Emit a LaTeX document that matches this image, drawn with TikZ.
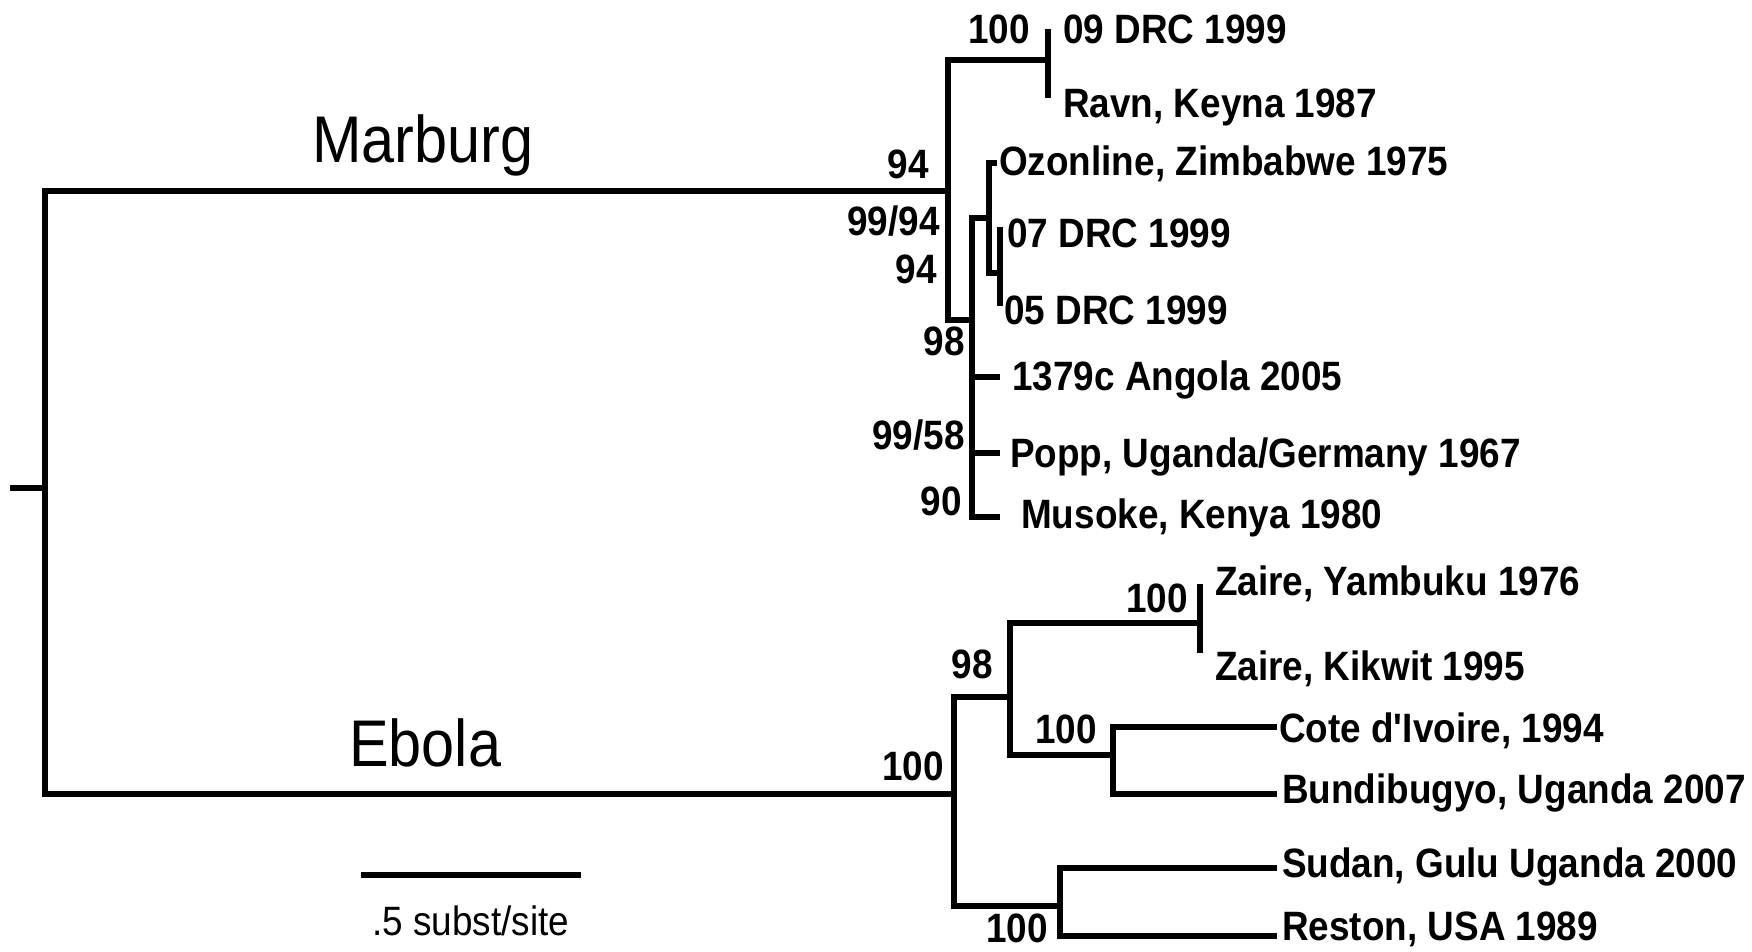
\documentclass[tikz,border=0pt]{standalone}
\usepackage{fontspec}
\setmainfont{Liberation Sans}
\newfontfamily\lblfont[FakeStretch=0.9]{Liberation Sans}
\newfontfamily\ttlfont[FakeStretch=0.9]{Liberation Sans}
\begin{document}
\begin{tikzpicture}[x=1pt,y=-1pt,
  branch/.style={line width=5.5pt,line join=miter},
  leaf/.style={anchor=base west,inner sep=0pt,font=\lblfont\bfseries\fontsize{41}{41}\selectfont},
  boot/.style={anchor=base east,inner sep=0pt,font=\lblfont\bfseries\fontsize{41}{41}\selectfont},
  title/.style={anchor=base west,inner sep=0pt,font=\ttlfont\fontsize{66}{66}\selectfont},
  scaletext/.style={anchor=base west,inner sep=0pt,font=\lblfont\fontsize{41}{41}\selectfont}]
\useasboundingbox (0,0) rectangle (1752,951);
% internal nodes
\coordinate (stub) at (10,488);
\coordinate (R) at (45,488);
\coordinate (M) at (948,191);
\coordinate (E) at (954,794);
\coordinate (N1) at (1048,60);
\coordinate (B) at (972,320);
\coordinate (C) at (989,218);
\coordinate (D) at (1000,273);
\coordinate (F) at (1010,697);
\coordinate (G) at (1060,906);
\coordinate (Z) at (1200,623);
\coordinate (H) at (1113,755);
% leaves
\coordinate (l09) at (1048,29);
\coordinate (lravn) at (1048,98);
\coordinate (loz) at (997,163);
\coordinate (l07) at (1000,227);
\coordinate (l05) at (1003,303);
\coordinate (lang) at (1000,377);
\coordinate (lpopp) at (1000,453);
\coordinate (lmus) at (1000,517);
\coordinate (lyam) at (1200,584);
\coordinate (lkik) at (1200,653);
\coordinate (lcote) at (1277,727);
\coordinate (lbun) at (1277,794);
\coordinate (lsud) at (1277,868);
\coordinate (lres) at (1277,936);
% branches
\draw[branch] (stub) -- (R);
\draw[branch] (R) |- (M);
\draw[branch] (R) |- (E);
\draw[branch] (M) |- (N1);
\draw[branch] (M) |- (B);
\draw[branch] (N1) |- (l09);
\draw[branch] (N1) |- (lravn);
\draw[branch] (B) |- (C);
\draw[branch] (B) |- (lang);
\draw[branch] (B) |- (lpopp);
\draw[branch] (B) |- (lmus);
\draw[branch] (C) |- (loz);
\draw[branch] (C) |- (D);
\draw[branch] (D) |- (l07);
\draw[branch] (D) |- (l05);
\draw[branch] (E) |- (F);
\draw[branch] (E) |- (G);
\draw[branch] (F) |- (Z);
\draw[branch] (F) |- (H);
\draw[branch] (Z) |- (lyam);
\draw[branch] (Z) |- (lkik);
\draw[branch] (H) |- (lcote);
\draw[branch] (H) |- (lbun);
\draw[branch] (G) |- (lsud);
\draw[branch] (G) |- (lres);
% leaf labels
\node[leaf] (t09) at (1063,43) {09 DRC 1999};
\node[leaf] (travn) at (1063,117) {Ravn, Keyna 1987};
\node[leaf] (toz) at (999,175) {Ozonline, Zimbabwe 1975};
\node[leaf] (t07) at (1007,247) {07 DRC 1999};
\node[leaf] (t05) at (1004,324) {05 DRC 1999};
\node[leaf] (tang) at (1012,390) {1379c Angola 2005};
\node[leaf] (tpopp) at (1010,467) {Popp, Uganda/Germany 1967};
\node[leaf] (tmus) at (1021,528) {Musoke, Kenya 1980};
\node[leaf] (tyam) at (1215,595) {Zaire, Yambuku 1976};
\node[leaf] (tkik) at (1215,680) {Zaire, Kikwit 1995};
\node[leaf] (tcote) at (1279,742) {Cote d'Ivoire, 1994};
\node[leaf] (tbun) at (1282,803) {Bundibugyo, Uganda 2007};
\node[leaf] (tsud) at (1282,877) {Sudan, Gulu Uganda 2000};
\node[leaf] (tres) at (1282,940) {Reston, USA 1989};
% bootstrap values
\node[boot] (b1) at (1030,43) {100};
\node[boot] (b2) at (929,178) {94};
\node[boot] (b3) at (940,235) {99/94};
\node[boot] (b4) at (937,283) {94};
\node[boot] (b5) at (965,355) {98};
\node[boot] (b6) at (965,449) {99/58};
\node[boot] (b7) at (962,515) {90};
\node[boot] (b8) at (944,780) {100};
\node[boot] (b9) at (993,678) {98};
\node[boot] (b10) at (1188,612) {100};
\node[boot] (b11) at (1097,743) {100};
\node[boot] (b12) at (1048,942) {100};
% clade titles
\node[title] (marburg) at (312,162) {Marburg};
\node[title] (ebola) at (349,766) {Ebola};
% scale bar
\coordinate (sb1) at (361,875);
\coordinate (sb2) at (581,875);
\draw[branch] (sb1) -- (sb2);
\node[scaletext] (sbt) at (372,935) {.5 subst/site};
\end{tikzpicture}
\end{document}
